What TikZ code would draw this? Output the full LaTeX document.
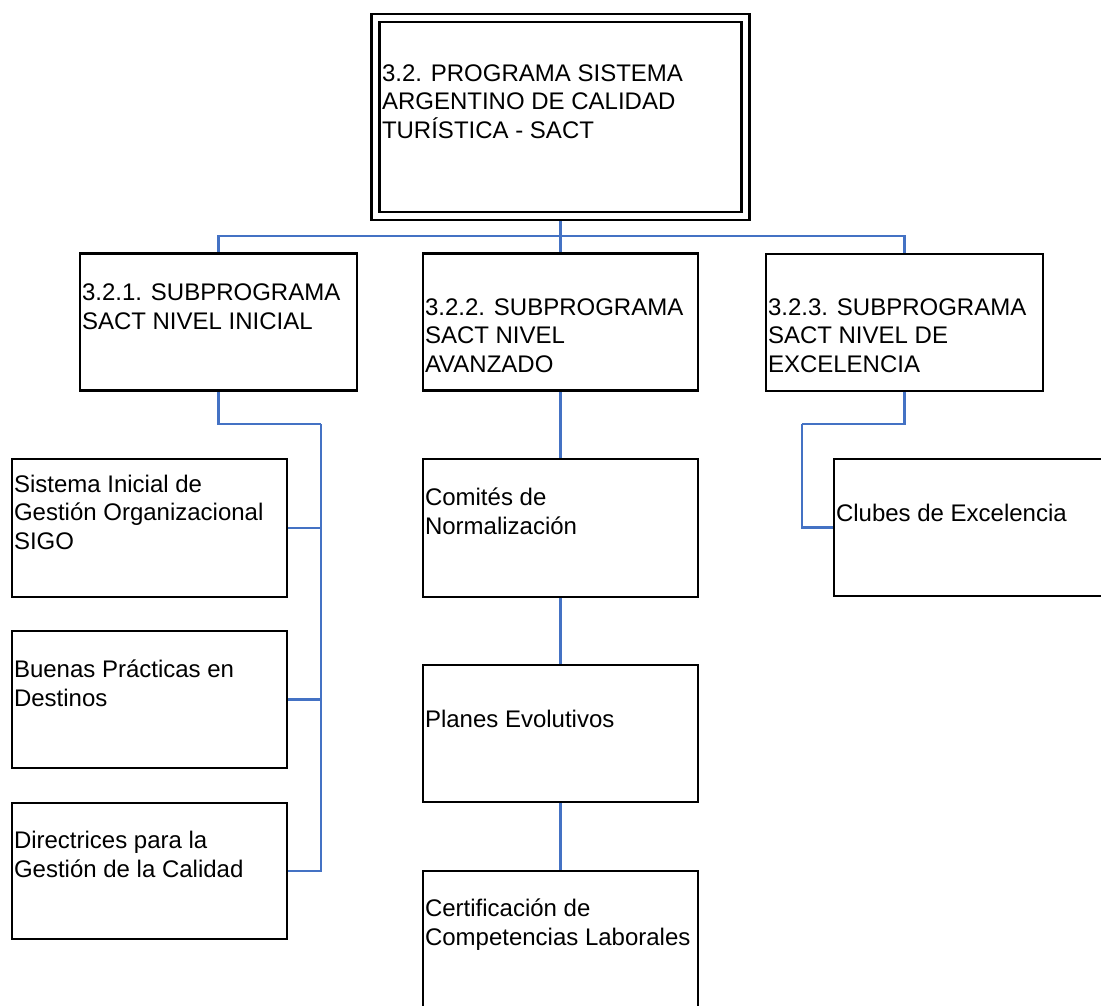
\documentclass[tikz,border=0pt]{standalone}
\usepackage{fontspec}
\setmainfont{Liberation Sans}
\usetikzlibrary{backgrounds}
\definecolor{linkblue}{HTML}{4472C4}
\tikzset{
  box/.style={draw=black, line width=2.2pt, inner sep=0pt, outer sep=0pt, minimum width=206.25pt, minimum height=102.75pt},
  dbox/.style={draw=black, double=white, line width=2.1pt, double distance=3.9pt, inner sep=0pt, outer sep=0pt},
  link/.style={draw=linkblue, line width=1.8pt},
  txt/.style={anchor=base west, align=left, inner sep=0pt, outer sep=0pt, font=\fontsize{18pt}{21.3pt}\selectfont}
}
\begin{document}
\begin{tikzpicture}[x=0.75pt,y=-0.75pt]
\useasboundingbox (0,0) rectangle (1101,1006);
\clip (0,0) rectangle (1101,1006);
% boxes
\node[dbox, minimum width=277.5pt, minimum height=148.5pt] (top) at (560.5,117) {};
\node[box, minimum width=207.75pt] (s1) at (218.5,322) {};
\node[box] (s2) at (560.5,322) {};
\node[box, minimum width=207.75pt] (s3) at (904.5,322.5) {};
\node[box, minimum height=103.5pt] (sis) at (149.5,528) {};
\node[box] (bue) at (149.5,699.5) {};
\node[box, minimum height=102pt] (dir) at (149.5,871) {};
\node[box, minimum height=103.5pt] (com) at (560.5,528) {};
\node[box] (pla) at (560.5,733.5) {};
\node[box] (cer) at (560.5,939.5) {};
\node[box] (clu) at (971.5,527.5) {};
% texts (anchored at the baseline of the last line)
\node[txt] (ttop) at (382,138) {3.2. PROGRAMA SISTEMA\\ARGENTINO DE CALIDAD\\TURÍSTICA - SACT};
\node[txt] (ts1) at (82,329) {3.2.1. SUBPROGRAMA\\SACT NIVEL INICIAL};
\node[txt] (ts2) at (425,372) {3.2.2. SUBPROGRAMA\\SACT NIVEL\\AVANZADO};
\node[txt] (ts3) at (768,372) {3.2.3. SUBPROGRAMA\\SACT NIVEL DE\\EXCELENCIA};
\node[txt] (tsis) at (14,549) {Sistema Inicial de\\Gestión Organizacional\\SIGO};
\node[txt] (tbue) at (14,706) {Buenas Prácticas en\\Destinos};
\node[txt] (tdir) at (14,877) {Directrices para la\\Gestión de la Calidad};
\node[txt] (tcom) at (425,534) {Comités de\\Normalización};
\node[txt] (tpla) at (425,727) {Planes Evolutivos};
\node[txt] (tcer) at (425,945) {Certificación de\\Competencias Laborales};
\node[txt] (tclu) at (836,521) {Clubes de Excelencia};
% connectors
\coordinate (tbus) at (560.5,236);
\coordinate (lbus) at (321,424);
\coordinate (rbus) at (802,424);
\begin{scope}[on background layer]
\draw[link] (top.south) -- (tbus) -| (s1.north);
\draw[link] (tbus) -| (s3.north);
\draw[link] (tbus) -- (s2.north);
\draw[link] (s1.south) |- (lbus);
\draw[link] (lbus) |- (sis.east);
\draw[link] (lbus) |- (bue.east);
\draw[link] (lbus) |- (dir.east);
\draw[link] (s2.south) -- (com.north);
\draw[link] (com.south) -- (pla.north);
\draw[link] (pla.south) -- (cer.north);
\draw[link] (s3.south) |- (rbus);
\draw[link] (rbus) |- (clu.west);
\end{scope}
\end{tikzpicture}
\end{document}
